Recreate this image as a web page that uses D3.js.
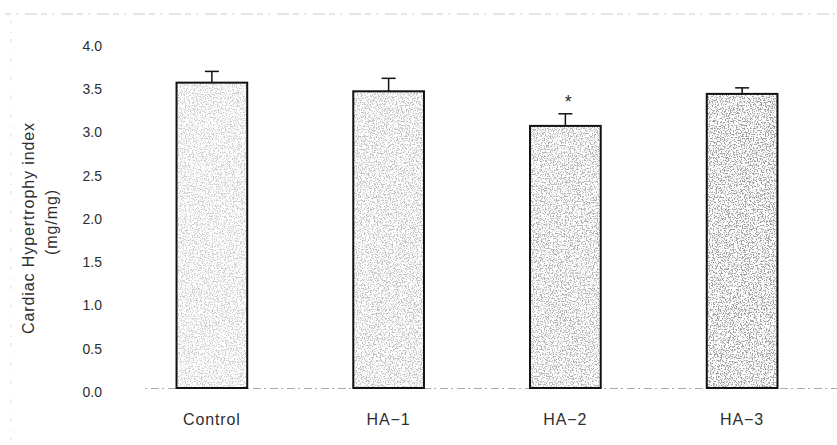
<!DOCTYPE html>
<html>
<head>
<meta charset="utf-8">
<script src="https://cdn.jsdelivr.net/npm/d3@7"></script>
<style>
  body { margin: 0; background: #fff; }
  text { font-family: "Liberation Sans", Arial, sans-serif; fill: #2e2e2e; }
</style>
</head>
<body>
<svg id="chart"></svg>
<script>
const groups = ['Control', 'HA-1', 'HA-2', 'HA-3'];
const labels = ['Control', 'HA\u22121', 'HA\u22122', 'HA\u22123'];
const means = [3.53, 3.43, 3.03, 3.40];
const errors = [0.13, 0.15, 0.14, 0.07];
const marks = ['', '', '*', ''];
const yTicks = [0, 0.5, 1, 1.5, 2, 2.5, 3, 3.5, 4];

const svgWidth = 837;
const svgHeight = 445;
const shade = [0.26, 0.32, 0.4, 0.5];

const svg = d3.select('#chart')
  .attr('width', svgWidth)
  .attr('height', svgHeight);

// scanned-paper noise for the bar fill
const defs = svg.append('defs');
const f = defs.append('filter').attr('id', 'stipple')
  .attr('x', 0).attr('y', 0).attr('width', 1).attr('height', 1);
f.append('feTurbulence')
  .attr('type', 'fractalNoise')
  .attr('baseFrequency', 0.75)
  .attr('numOctaves', 2)
  .attr('seed', 3)
  .attr('result', 'noise');
f.append('feColorMatrix')
  .attr('in', 'noise')
  .attr('type', 'matrix')
  .attr('values', '0 0 0 0 0  0 0 0 0 0  0 0 0 0 0  0 0 0 -7 3.6')
  .attr('result', 'dots');
f.append('feComposite')
  .attr('in', 'SourceGraphic')
  .attr('in2', 'dots')
  .attr('operator', 'in');

const xScale = d3.scaleBand()
  .domain(groups)
  .range([123.5, 830.5])
  .paddingInner(0.6)
  .paddingOuter(0.3);

const yScale = d3.scaleLinear()
  .domain([0, 4])
  .range([388, 42]);

// faint scan edges
svg.append('line')
  .attr('x1', 5).attr('x2', 835).attr('y1', 14).attr('y2', 14)
  .attr('stroke', '#ccc').attr('stroke-width', 1)
  .attr('stroke-dasharray', '6 5 2 7 12 4');
svg.append('line')
  .attr('x1', 11).attr('x2', 11).attr('y1', 20).attr('y2', 440)
  .attr('stroke', '#ddd').attr('stroke-width', 1)
  .attr('stroke-dasharray', '3 9 1 6');

// baseline
svg.append('line')
  .attr('x1', 145).attr('x2', 837)
  .attr('y1', yScale(0) + 0.5).attr('y2', yScale(0) + 0.5)
  .attr('stroke', '#aaa').attr('stroke-width', 1)
  .attr('stroke-dasharray', '2 4 8 3');

const yAxis = d3.axisLeft(yScale)
  .tickValues(yTicks)
  .tickFormat(d3.format('.1f'))
  .tickSize(0)
  .tickPadding(0);

const gy = svg.append('g')
  .attr('transform', 'translate(102,4)')
  .call(yAxis);
gy.select('.domain').remove();
gy.selectAll('text')
  .style('font-size', '14px')
  .attr('font-family', null);

svg.append('text')
  .attr('transform', 'translate(34,228) rotate(-90)')
  .attr('text-anchor', 'middle')
  .style('font-size', '16px')
  .style('letter-spacing', '0.9px')
  .text('Cardiac Hypertrophy index');
svg.append('text')
  .attr('transform', 'translate(57,222) rotate(-90)')
  .attr('text-anchor', 'middle')
  .style('font-size', '16px')
  .style('letter-spacing', '0.9px')
  .text('(mg/mg)');

const bars = svg.selectAll('.bar')
  .data(groups)
  .enter()
  .append('g')
  .attr('class', 'bar');

// error bars (upper only)
bars.append('line')
  .attr('x1', (d) => xScale(d) + xScale.bandwidth() / 2)
  .attr('x2', (d) => xScale(d) + xScale.bandwidth() / 2)
  .attr('y1', (d, i) => yScale(means[i]))
  .attr('y2', (d, i) => yScale(means[i] + errors[i]))
  .attr('stroke', '#111').attr('stroke-width', 1.5);
bars.append('line')
  .attr('x1', (d) => xScale(d) + xScale.bandwidth() / 2 - 7)
  .attr('x2', (d) => xScale(d) + xScale.bandwidth() / 2 + 7)
  .attr('y1', (d, i) => yScale(means[i] + errors[i]))
  .attr('y2', (d, i) => yScale(means[i] + errors[i]))
  .attr('stroke', '#111').attr('stroke-width', 1.5);

bars.append('rect')
  .attr('x', (d) => xScale(d))
  .attr('y', (d, i) => yScale(means[i]))
  .attr('width', xScale.bandwidth())
  .attr('height', (d, i) => yScale(0) - yScale(means[i]))
  .attr('fill', '#fff');

bars.append('rect')
  .attr('x', (d) => xScale(d))
  .attr('y', (d, i) => yScale(means[i]))
  .attr('width', xScale.bandwidth())
  .attr('height', (d, i) => yScale(0) - yScale(means[i]))
  .attr('fill', '#444')
  .attr('fill-opacity', (d, i) => shade[i])
  .attr('filter', 'url(#stipple)');

bars.append('rect')
  .attr('x', (d) => xScale(d))
  .attr('y', (d, i) => yScale(means[i]))
  .attr('width', xScale.bandwidth())
  .attr('height', (d, i) => yScale(0) - yScale(means[i]))
  .attr('fill', 'none')
  .attr('stroke', '#111')
  .attr('stroke-width', 2);

bars.append('text')
  .attr('x', (d) => xScale(d) + xScale.bandwidth() / 2 + 3)
  .attr('y', (d, i) => yScale(means[i] + errors[i]) - 6)
  .attr('text-anchor', 'middle')
  .style('font-size', '18px')
  .text((d, i) => marks[i]);

const xAxis = d3.axisBottom(xScale)
  .tickFormat((d, i) => labels[i])
  .tickSize(0)
  .tickPadding(0);
const gx = svg.append('g')
  .attr('transform', 'translate(0,' + (yScale(0) + 37) + ')')
  .call(xAxis);
gx.select('.domain').remove();
gx.selectAll('text')
  .style('font-size', '16px')
  .style('letter-spacing', '0.9px')
  .attr('font-family', null)
  .attr('dy', null);
</script>
</body>
</html>
